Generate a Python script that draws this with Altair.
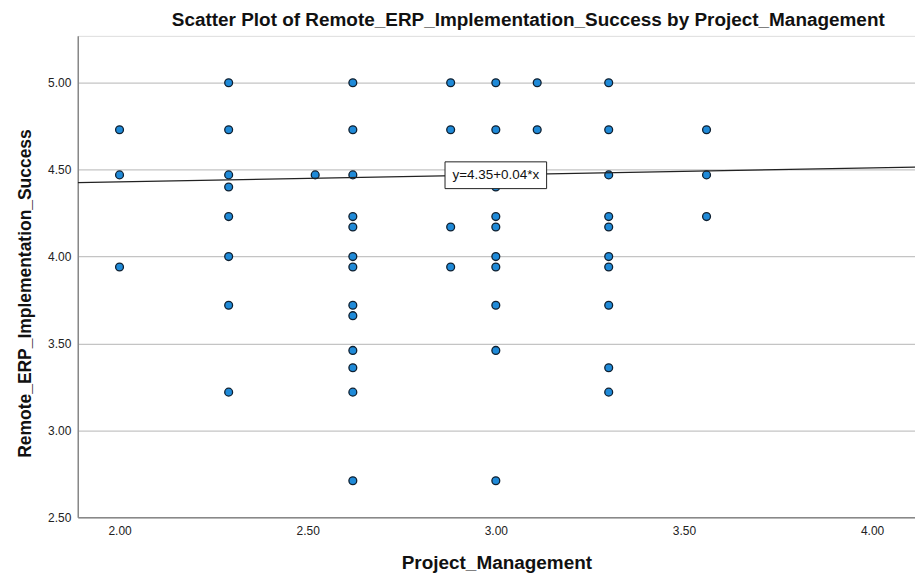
import altair as alt
import pandas as pd

pm_values = [2.00, 2.00, 2.00,
             2.29, 2.29, 2.29, 2.29, 2.29, 2.29, 2.29, 2.29,
             2.52,
             2.62, 2.62, 2.62, 2.62, 2.62, 2.62, 2.62, 2.62, 2.62, 2.62, 2.62, 2.62, 2.62,
             2.88, 2.88, 2.88, 2.88,
             3.00, 3.00, 3.00, 3.00, 3.00, 3.00, 3.00, 3.00, 3.00, 3.00,
             3.11, 3.11,
             3.30, 3.30, 3.30, 3.30, 3.30, 3.30, 3.30, 3.30, 3.30, 3.30,
             3.56, 3.56, 3.56]
erp_values = [4.73, 4.47, 3.94,
              5.00, 4.73, 4.47, 4.40, 4.23, 4.00, 3.72, 3.22,
              4.47,
              5.00, 4.73, 4.47, 4.23, 4.17, 4.00, 3.94, 3.72, 3.66, 3.46, 3.36, 3.22, 2.71,
              5.00, 4.73, 4.17, 3.94,
              5.00, 4.73, 4.40, 4.23, 4.17, 4.00, 3.94, 3.72, 3.46, 2.71,
              5.00, 4.73,
              5.00, 4.73, 4.47, 4.23, 4.17, 4.00, 3.94, 3.72, 3.36, 3.22,
              4.73, 4.47, 4.23]

intercept = 4.35
slope = 0.04
x_domain = [1.889, 4.114]
y_domain = [2.5, 5.27]
fit_label = "y=4.35+0.04*x"

df = pd.DataFrame({"Project_Management": pm_values,
                   "Remote_ERP_Implementation_Success": erp_values})
line_df = pd.DataFrame({"Project_Management": x_domain,
                        "Remote_ERP_Implementation_Success": [intercept + slope * v for v in x_domain]})
box_df = pd.DataFrame({"x": [2.865], "x2": [3.135], "y": [4.391], "y2": [4.545],
                       "xc": [3.0], "yc": [4.468], "label": [fit_label]})

font = "Liberation Sans"

xscale = alt.Scale(domain=x_domain, nice=False, zero=False)
yscale = alt.Scale(domain=y_domain, nice=False, zero=False)

xaxis = alt.Axis(values=[2.0, 2.5, 3.0, 3.5, 4.0], format=".2f", grid=False, ticks=False,
                 domainColor="#888888", domainWidth=1.5, labelFont=font, labelFontSize=12,
                 labelColor="#222222", labelPadding=8,
                 title="Project_Management", titleFont=font, titleFontSize=19,
                 titleFontWeight="bold", titleColor="#111111", titlePadding=17)
yaxis = alt.Axis(values=[2.5, 3.0, 3.5, 4.0, 4.5, 5.0], format=".2f", grid=True,
                 gridColor="#c4c4c4", gridWidth=1.2, ticks=False,
                 domainColor="#888888", domainWidth=1.5, labelFont=font, labelFontSize=12,
                 labelColor="#222222", labelPadding=7,
                 title="Remote_ERP_Implementation_Success", titleFont=font, titleFontSize=17.5,
                 titleFontWeight="bold", titleColor="#111111", titlePadding=13, titleY=258)

points = alt.Chart(df).mark_point(filled=True, size=62, fill="#1f8ad8", stroke="#102030",
                                  strokeWidth=1.3, opacity=1).encode(
    x=alt.X("Project_Management:Q", scale=xscale, axis=xaxis),
    y=alt.Y("Remote_ERP_Implementation_Success:Q", scale=yscale, axis=yaxis),
)

fit = alt.Chart(line_df).mark_line(color="#222222", strokeWidth=1.3, clip=True).encode(
    x=alt.X("Project_Management:Q", scale=xscale),
    y=alt.Y("Remote_ERP_Implementation_Success:Q", scale=yscale),
)

box = alt.Chart(box_df).mark_rect(fill="white", stroke="#222222", strokeWidth=1).encode(
    x=alt.X("x:Q", scale=xscale), x2="x2:Q",
    y=alt.Y("y:Q", scale=yscale), y2="y2:Q",
)
label = alt.Chart(box_df).mark_text(font=font, fontSize=13.5, color="#111111").encode(
    x=alt.X("xc:Q", scale=xscale),
    y=alt.Y("yc:Q", scale=yscale),
    text="label:N",
)

chart = alt.layer(points, fit, box, label).properties(
    width=840, height=483,
    title=alt.TitleParams("Scatter Plot of Remote_ERP_Implementation_Success by Project_Management",
                          font=font, fontSize=19, fontWeight="bold", color="#111111",
                          anchor="middle", dx=32, offset=6),
    autosize=alt.AutoSizeParams(type="none"),
    padding={"left": 70, "top": 27, "right": 0, "bottom": 60},
).configure_view(stroke=None).configure(background="white")

chart.save("out.html", embed_options={"renderer": "svg", "actions": False})
